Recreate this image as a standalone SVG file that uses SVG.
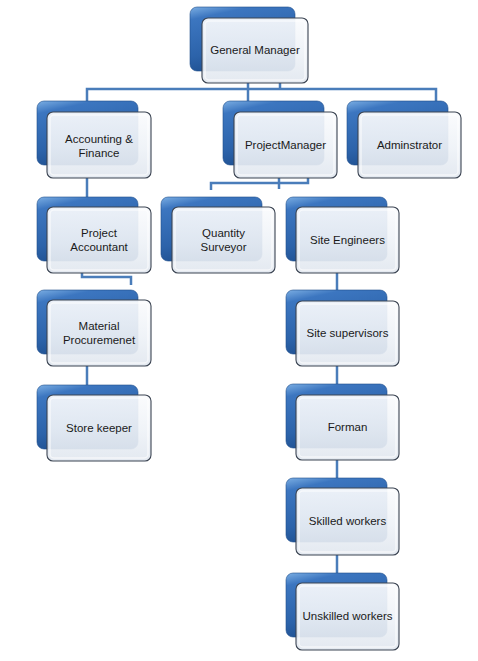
<svg xmlns="http://www.w3.org/2000/svg" width="478" height="661" viewBox="0 0 478 661">
<defs>
<linearGradient id="gBlue" x1="0" y1="0" x2="0.35" y2="1">
<stop offset="0" stop-color="#7BAEE3"/>
<stop offset="0.18" stop-color="#3C76C0"/>
<stop offset="0.7" stop-color="#2C63AA"/>
<stop offset="1" stop-color="#1E4F8F"/>
</linearGradient>
<linearGradient id="gFront" x1="0" y1="0" x2="0" y2="1">
<stop offset="0" stop-color="#FAFBFD"/>
<stop offset="0.55" stop-color="#EEF2F7"/>
<stop offset="1" stop-color="#E1E7EF"/>
</linearGradient>
<style>
.conn{fill:none;stroke:#4A7DBA;stroke-width:2.5}
.back{fill:url(#gBlue);stroke:#1F4E8C;stroke-width:0.6}
.front{fill:url(#gFront);stroke:#3B4452;stroke-width:1.1;fill-opacity:0.92}
.inner{fill:none;stroke:#FFFFFF;stroke-width:1.5;opacity:0.6}
.lbl{font-family:"Liberation Sans",Arial,sans-serif;font-size:11.5px;fill:#1A1A1A;text-anchor:middle}
</style>
</defs>
<rect width="478" height="661" fill="#FFFFFF"/>
<g id="connectors">
<path class="conn" d="M248,83 V101" stroke-width="3.5"/>
<path class="conn" d="M280,83 V89"/>
<path class="conn" d="M87,101 V89 H436 V101"/>
<path class="conn" d="M87,178 V197"/>
<path class="conn" d="M279,178 V189" stroke-width="3"/>
<path class="conn" d="M308,178 V183 H211 V190"/>
<path class="conn" d="M82,272 V277 H131 V285"/>
<path class="conn" d="M87,366 V385"/>
<path class="conn" d="M337,272 V290"/>
<path class="conn" d="M337,366 V384"/>
<path class="conn" d="M337,460 V478"/>
<path class="conn" d="M337,555 V573"/>
</g>
<g id="n-general-manager" transform="translate(202,18)">
<rect class="back" x="-12" y="-11" width="105" height="64" rx="7"/>
<rect class="front" x="0" y="0" width="106" height="65" rx="6"/>
<rect class="inner" x="3" y="3" width="100" height="59" rx="4"/>
<text class="lbl" x="53" y="36">General Manager</text>
</g>
<g id="n-accounting" transform="translate(47,112)">
<rect class="back" x="-10" y="-11" width="101" height="64" rx="7"/>
<rect class="front" x="0" y="0" width="104" height="66" rx="6"/>
<rect class="inner" x="3" y="3" width="98" height="60" rx="4"/>
<text class="lbl" x="52" y="31">Accounting &amp;</text>
<text class="lbl" x="52" y="44.5">Finance</text>
</g>
<g id="n-project-manager" transform="translate(234,112)">
<rect class="back" x="-11" y="-11" width="101" height="64" rx="7"/>
<rect class="front" x="0" y="0" width="103" height="66" rx="6"/>
<rect class="inner" x="3" y="3" width="97" height="60" rx="4"/>
<text class="lbl" x="51.5" y="37">ProjectManager</text>
</g>
<g id="n-adminstrator" transform="translate(358,112)">
<rect class="back" x="-11" y="-11" width="101" height="64" rx="7"/>
<rect class="front" x="0" y="0" width="103" height="66" rx="6"/>
<rect class="inner" x="3" y="3" width="97" height="60" rx="4"/>
<text class="lbl" x="51.5" y="37">Adminstrator</text>
</g>
<g id="n-project-accountant" transform="translate(47,207)">
<rect class="back" x="-10" y="-10" width="101" height="64" rx="7"/>
<rect class="front" x="0" y="0" width="104" height="66" rx="6"/>
<rect class="inner" x="3" y="3" width="98" height="60" rx="4"/>
<text class="lbl" x="52" y="30">Project</text>
<text class="lbl" x="52" y="44">Accountant</text>
</g>
<g id="n-quantity-surveyor" transform="translate(172,207)">
<rect class="back" x="-11" y="-10" width="101" height="64" rx="7"/>
<rect class="front" x="0" y="0" width="103" height="66" rx="6"/>
<rect class="inner" x="3" y="3" width="97" height="60" rx="4"/>
<text class="lbl" x="51.5" y="30">Quantity</text>
<text class="lbl" x="51.5" y="44">Surveyor</text>
</g>
<g id="n-site-engineers" transform="translate(296,207)">
<rect class="back" x="-10" y="-10" width="101" height="64" rx="7"/>
<rect class="front" x="0" y="0" width="103" height="66" rx="6"/>
<rect class="inner" x="3" y="3" width="97" height="60" rx="4"/>
<text class="lbl" x="51.5" y="37">Site Engineers</text>
</g>
<g id="n-material-procurement" transform="translate(47,300)">
<rect class="back" x="-10" y="-10" width="101" height="64" rx="7"/>
<rect class="front" x="0" y="0" width="104" height="66" rx="6"/>
<rect class="inner" x="3" y="3" width="98" height="60" rx="4"/>
<text class="lbl" x="52" y="30">Material</text>
<text class="lbl" x="52" y="44">Procuremenet</text>
</g>
<g id="n-store-keeper" transform="translate(47,395)">
<rect class="back" x="-10" y="-10" width="101" height="64" rx="7"/>
<rect class="front" x="0" y="0" width="104" height="66" rx="6"/>
<rect class="inner" x="3" y="3" width="98" height="60" rx="4"/>
<text class="lbl" x="52" y="37">Store keeper</text>
</g>
<g id="n-site-supervisors" transform="translate(296,301)">
<rect class="back" x="-10" y="-11" width="101" height="64" rx="7"/>
<rect class="front" x="0" y="0" width="103" height="65" rx="6"/>
<rect class="inner" x="3" y="3" width="97" height="59" rx="4"/>
<text class="lbl" x="51.5" y="36">Site supervisors</text>
</g>
<g id="n-forman" transform="translate(296,395)">
<rect class="back" x="-10" y="-11" width="101" height="64" rx="7"/>
<rect class="front" x="0" y="0" width="103" height="65" rx="6"/>
<rect class="inner" x="3" y="3" width="97" height="59" rx="4"/>
<text class="lbl" x="51.5" y="36">Forman</text>
</g>
<g id="n-skilled-workers" transform="translate(296,488)">
<rect class="back" x="-10" y="-10" width="101" height="64" rx="7"/>
<rect class="front" x="0" y="0" width="103" height="67" rx="6"/>
<rect class="inner" x="3" y="3" width="97" height="61" rx="4"/>
<text class="lbl" x="51.5" y="37">Skilled workers</text>
</g>
<g id="n-unskilled-workers" transform="translate(296,583)">
<rect class="back" x="-10" y="-10" width="101" height="64" rx="7"/>
<rect class="front" x="0" y="0" width="103" height="67" rx="6"/>
<rect class="inner" x="3" y="3" width="97" height="61" rx="4"/>
<text class="lbl" x="51.5" y="37">Unskilled workers</text>
</g>
</svg>
